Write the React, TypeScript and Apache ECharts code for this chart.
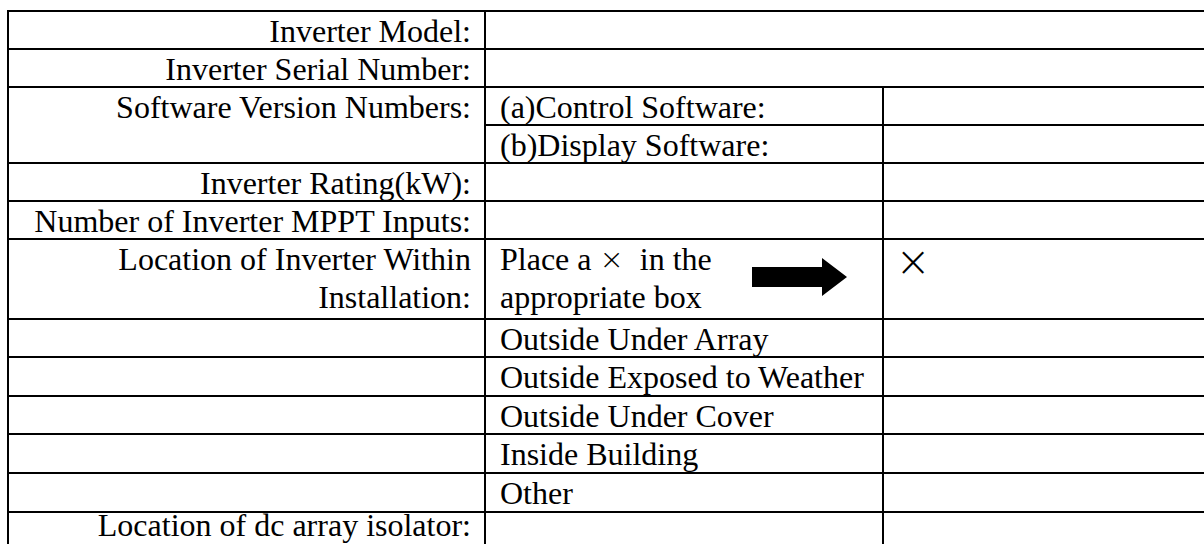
import React, { useEffect, useRef } from "react";
import * as echarts from "echarts";

// ---- Table content ----
const leftLabels: string[][] = [
  ["Inverter Model:"],
  ["Inverter Serial Number:"],
  ["Software Version Numbers:"],
  [],
  ["Inverter Rating(kW):"],
  ["Number of Inverter MPPT Inputs:"],
  ["Location of Inverter Within", "Installation:"],
  [],
  [],
  [],
  [],
  [],
  ["Location of dc array isolator:"],
];
const middleLabels: string[][] = [
  [],
  [],
  ["(a)Control Software:"],
  ["(b)Display Software:"],
  [],
  [],
  ["Place a {x|\u00D7}  in the", "appropriate box"],
  ["Outside Under Array"],
  ["Outside Exposed to Weather"],
  ["Outside Under Cover"],
  ["Inside Building"],
  ["Other"],
  [],
];
const rightLabels: string[] = ["", "", "", "", "", "", "\u00D7", "", "", "", "", "", ""];

// ---- Layout ----
const ROW_EDGES = [11, 49, 87, 125, 163, 201, 239, 319, 357, 396, 434, 473, 512, 550];
const X_LEFT = 8;
const X_MID = 485;
const X_RIGHT = 883;
const X_END = 1214;
const LINE_W = 2;
const FONT = "Liberation Serif";
const FONT_SIZE = 32;
const LINE_STEP = 38;

export default function App() {
  const ref = useRef<HTMLDivElement>(null);
  useEffect(() => {
    if (!ref.current) return;
    const chart = echarts.init(ref.current, undefined, { renderer: "svg" });
    const els: any[] = [];
    const stroke = { stroke: "#000", lineWidth: LINE_W };

    // horizontal lines
    ROW_EDGES.forEach((y, i) => {
      const x1 = i === 3 ? X_MID : X_LEFT - 1;
      els.push({ type: "line", shape: { x1, y1: y, x2: X_END, y2: y }, style: stroke });
    });
    const top = ROW_EDGES[0];
    const bottom = ROW_EDGES[ROW_EDGES.length - 1];
    // vertical lines
    els.push({ type: "line", shape: { x1: X_LEFT, y1: top - 1, x2: X_LEFT, y2: bottom }, style: stroke });
    els.push({ type: "line", shape: { x1: X_MID, y1: top - 1, x2: X_MID, y2: bottom }, style: stroke });
    els.push({ type: "line", shape: { x1: X_RIGHT, y1: ROW_EDGES[2] - 1, x2: X_RIGHT, y2: bottom }, style: stroke });

    const textStyle = (text: string, align: string) => ({
      text,
      fill: "#000",
      fontFamily: FONT,
      fontSize: FONT_SIZE,
      align,
      verticalAlign: "middle",
      rich: {
        x: { fontFamily: "DejaVu Sans", fontWeight: 200, fontSize: 29, fill: "#000" },
      },
    });

    leftLabels.forEach((lines, r) => {
      lines.forEach((t, k) => {
        els.push({
          type: "text",
          x: X_MID - 14,
          y: Math.min(ROW_EDGES[r] + 20 + LINE_STEP * k, 525),
          style: textStyle(t, "right"),
        });
      });
    });
    middleLabels.forEach((lines, r) => {
      lines.forEach((t, k) => {
        els.push({
          type: "text",
          x: X_MID + 15,
          y: ROW_EDGES[r] + 20 + LINE_STEP * k,
          style: textStyle(t, "left"),
        });
      });
    });
    rightLabels.forEach((t, r) => {
      if (!t) return;
      els.push({
        type: "text",
        x: X_RIGHT + 30,
        y: ROW_EDGES[r] + 22,
        style: {
          text: t,
          fill: "#000",
          fontFamily: "DejaVu Sans",
          fontWeight: 200,
          fontSize: 42,
          align: "center",
          verticalAlign: "middle",
        },
      });
    });

    // arrow in the instruction cell
    els.push({
      type: "polygon",
      shape: {
        points: [
          [752, 267],
          [822, 267],
          [822, 258],
          [847, 277],
          [822, 296],
          [822, 287],
          [752, 287],
        ],
      },
      style: { fill: "#000" },
    });

    chart.setOption({ animation: false, graphic: { elements: els } });
    return () => chart.dispose();
  }, []);
  return (
    <div
      ref={ref}
      style={{ position: "absolute", left: 0, top: 0, width: 1204, height: 544, background: "#fff" }}
    />
  );
}
